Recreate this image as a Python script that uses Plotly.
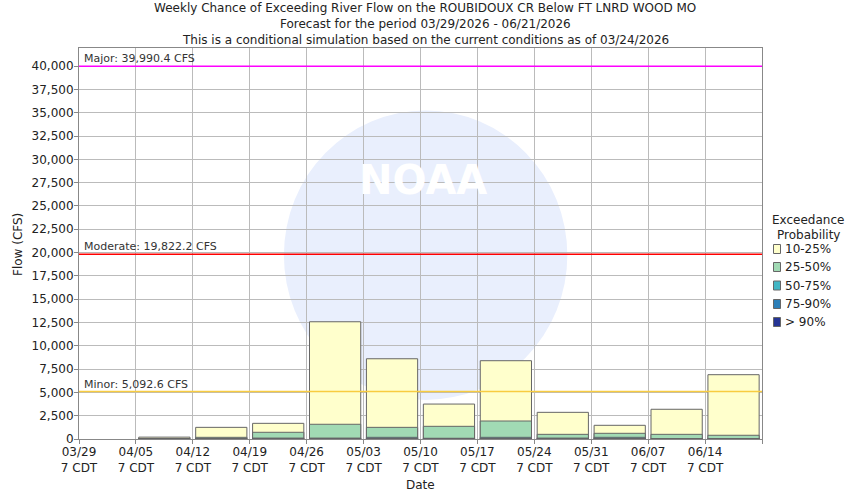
import plotly.graph_objects as go

# ---- data ----
week_labels = ["03/29", "04/05", "04/12", "04/19", "04/26", "05/03",
               "05/10", "05/17", "05/24", "05/31", "06/07", "06/14", ""]
tick_suffix = "7 CDT"

# exceedance flow values (CFS) per week
p10 = [None, 200, 1250, 1680, 12580, 8610, 3750, 8400, 2860, 1470, 3190, 6900]
p25 = [None, 50, 180, 720, 1580, 1250, 1360, 1930, 500, 610, 500, 400]
p50 = [None, 20, 40, 100, 100, 180, 80, 180, 100, 180, 40, 40]
p75 = [None, 10, 20, 40, 50, 60, 40, 60, 40, 60, 20, 20]
p90 = [None, 5, 10, 20, 20, 30, 20, 30, 20, 30, 10, 10]

series_names = ["10-25%", "25-50%", "50-75%", "75-90%", "> 90%"]
series_colors = ["#FFFFCC", "#A1DAB4", "#41B6C4", "#2C7FB8", "#253494"]

flood_names = ["Major", "Moderate", "Minor"]
flood_values = [39990.4, 19822.2, 5092.6]
flood_colors = ["#FF00FF", "#FF0000", "#F8CC40"]

title_lines = [
    "Weekly Chance of Exceeding River Flow on the ROUBIDOUX CR Below FT LNRD WOOD MO",
    "Forecast for the period 03/29/2026 - 06/21/2026",
    "This is a conditional simulation based on the current conditions as of 03/24/2026",
]
legend_title = ["Exceedance", "Probability"]

FONT = "DejaVu Sans"
TXT = "#222222"

# plot-area geometry (pixels) used to place annotations
L, R, T, B = 79, 88, 48, 61
W, H = 850, 500
PW, PH = W - L - R, H - T - B


def px_x(px):
    return (px - L) / PW


def px_y(py):
    return (H - B - py) / PH


x_centers = [i + 0.5 for i in range(len(p10))]

fig = go.Figure()
for name, vals, col in zip(series_names, [p10, p25, p50, p75, p90], series_colors):
    fig.add_trace(go.Bar(
        x=x_centers, y=vals, name=name, width=0.9, showlegend=False,
        marker=dict(color=col, line=dict(color="#666666", width=1)),
    ))

shapes = []
annotations = []
# watermark-ish pale circle
shapes.append(dict(type="circle", xref="paper", yref="paper",
                   x0=0.30, x1=0.715, y0=0.10, y1=0.84,
                   fillcolor="#E9EFFD", line=dict(width=0), layer="below"))
annotations.append(dict(text="<b>NOAA</b>", xref="paper", yref="paper",
                        x=px_x(423), y=px_y(180),
                        showarrow=False, font=dict(family=FONT, size=40, color="#FFFFFF")))

for name, val, col in zip(flood_names, flood_values, flood_colors):
    shapes.append(dict(type="line", xref="paper", yref="y", x0=0, x1=1, y0=val, y1=val,
                       line=dict(color=col, width=1.4)))
    annotations.append(dict(text=f"{name}: {val:,.1f} CFS", xref="paper", yref="y",
                            x=0, y=val, xanchor="left", yanchor="bottom", xshift=3,
                            yshift=-1, showarrow=False,
                            font=dict(family=FONT, size=11, color="#333333")))

for line, ypx in zip(title_lines, [8, 24, 40]):
    annotations.append(dict(text=line, xref="paper", yref="paper",
                            x=px_x(425), y=px_y(ypx),
                            xanchor="center", yanchor="middle", showarrow=False,
                            font=dict(family=FONT, size=12, color=TXT)))

annotations.append(dict(text="Flow (CFS)", xref="paper", yref="paper",
                        x=px_x(18), y=px_y(245),
                        textangle=-90, showarrow=False, xanchor="center", yanchor="middle",
                        font=dict(family=FONT, size=12, color=TXT)))
annotations.append(dict(text="Date", xref="paper", yref="paper",
                        x=px_x(420), y=px_y(485), showarrow=False,
                        xanchor="center", yanchor="middle",
                        font=dict(family=FONT, size=12, color=TXT)))

# legend (drawn manually to match the reference placement)
for line, ypx in zip(legend_title, [220, 235]):
    annotations.append(dict(text=line, xref="paper", yref="paper",
                            x=px_x(808), y=px_y(ypx), xanchor="center", yanchor="middle",
                            showarrow=False, font=dict(family=FONT, size=12, color=TXT)))
for name, col, ypx in zip(series_names, series_colors, [249, 267, 285.5, 304, 322]):
    shapes.append(dict(type="rect", xref="paper", yref="paper",
                       x0=px_x(773.5), x1=px_x(780.5),
                       y0=px_y(ypx + 4.5), y1=px_y(ypx - 4.5),
                       fillcolor=col, line=dict(color="#666666", width=1)))
    annotations.append(dict(text=name, xref="paper", yref="paper",
                            x=px_x(783), y=px_y(ypx), xanchor="left", yanchor="middle",
                            showarrow=False, font=dict(family=FONT, size=12, color=TXT)))

fig.update_layout(
    width=W, height=H,
    margin=dict(l=L, r=R, t=T, b=B, autoexpand=False),
    paper_bgcolor="white", plot_bgcolor="rgba(0,0,0,0)",
    barmode="overlay",
    font=dict(family=FONT, size=12, color=TXT),
    shapes=shapes, annotations=annotations,
    showlegend=False,
    xaxis=dict(
        range=[0, 12], tickmode="array",
        tickvals=list(range(len(week_labels))),
        ticktext=[f"{w}<br>{tick_suffix}" if w else "" for w in week_labels],
        showgrid=True, gridcolor="#BBBBBB", gridwidth=1,
        ticks="outside", ticklen=4, tickcolor="#888888",
        showline=True, linecolor="#888888", mirror=True,
        zeroline=False, automargin=False, ticklabelstandoff=-2,
        tickfont=dict(family=FONT, size=12, color=TXT),
    ),
    yaxis=dict(
        range=[0, 41950], tickmode="linear", tick0=0, dtick=2500,
        tickformat=",", showgrid=True, gridcolor="#BBBBBB", gridwidth=1,
        ticks="outside", ticklen=4, tickcolor="#888888",
        showline=True, linecolor="#888888", mirror=True, zeroline=False,
        automargin=False, ticklabelstandoff=-2,
        tickfont=dict(family=FONT, size=12, color=TXT),
    ),
)

fig.write_html("out.html", config={"displayModeBar": False},
               post_script="document.body.style.margin='0';")
